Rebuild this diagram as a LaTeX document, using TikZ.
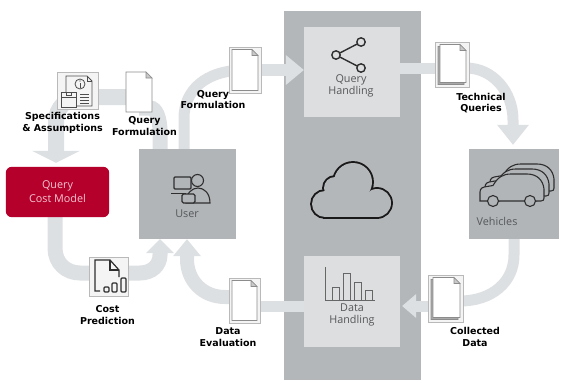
\documentclass[tikz,border=0pt]{standalone}
\usepackage{fontspec}
\setmainfont{DejaVu Sans}
\newfontfamily\labelfont{DejaVu Sans}
\newfontfamily\boxfont{Open Sans}
\usetikzlibrary{arrows.meta,calc}

\definecolor{colgray}{HTML}{B4B7BA}
\definecolor{boxgray}{HTML}{B2B5B8}
\definecolor{innergray}{HTML}{DCDEDF}
\definecolor{bandgray}{HTML}{DDE0E2}
\definecolor{costred}{HTML}{B5002C}
\definecolor{costtext}{HTML}{F3C6D0}
\definecolor{boxtext}{HTML}{555759}
\definecolor{tileline}{HTML}{B9B9B9}
\definecolor{tilefill}{HTML}{F4F4F4}
\definecolor{pageline}{HTML}{8C8C8C}
\definecolor{foldgray}{HTML}{C9C9C9}
\definecolor{shadowgray}{HTML}{A9A9A9}
\definecolor{iconline}{HTML}{2E2E2E}
\definecolor{chartline}{HTML}{666666}

\tikzset{
  band/.style={draw=bandgray, line width=#1},
  band/.default=12pt,
  tip/.style 2 args={-{Triangle[width=#1,length=#2,line width=0pt]}},
  block/.style={fill=#1, draw=none, inner sep=0pt},
  tile/.style={draw=tileline, fill=tilefill, line width=0.6pt, inner sep=0pt},
  lbl/.style={font=\labelfont\bfseries\fontsize{9.5}{11.5}\selectfont, align=center, inner sep=0pt, text=black},
  boxlbl/.style={font=\boxfont\fontsize{10.8}{12.5}\selectfont, align=center, inner sep=0pt, text=boxtext},
  icon/.style={draw=iconline, line width=1.1pt},
  pics/docpage/.style 2 args={code={
    \draw[draw=pageline, line width=0.6pt, fill=white]
      ({-#1/2},{-#2/2}) -- ({#1/2-6},{-#2/2}) -- ({#1/2},{-#2/2+6}) --
      ({#1/2},{#2/2}) -- ({-#1/2},{#2/2}) -- cycle;
    \draw[draw=pageline, line width=0.6pt, fill=foldgray]
      ({#1/2-6},{-#2/2}) -- ({#1/2-6},{-#2/2+6}) -- ({#1/2},{-#2/2+6}) -- cycle;
  }},
  pics/stackpage/.style 2 args={code={
    \draw[draw=pageline, line width=0.6pt, fill=shadowgray]
      ({-#1/2-2},{-#2/2+2}) -- ({#1/2-8},{-#2/2+2}) -- ({#1/2-2},{-#2/2+8}) --
      ({#1/2-2},{#2/2+2}) -- ({-#1/2-2},{#2/2+2}) -- cycle;
    \draw[draw=pageline, line width=0.6pt, fill=white]
      ({-#1/2},{-#2/2}) -- ({#1/2-6},{-#2/2}) -- ({#1/2},{-#2/2+6}) --
      ({#1/2},{#2/2}) -- ({-#1/2},{#2/2}) -- cycle;
    \draw[draw=pageline, line width=0.6pt, fill=foldgray]
      ({#1/2-6},{-#2/2}) -- ({#1/2-6},{-#2/2+6}) -- ({#1/2},{-#2/2+6}) -- cycle;
  }},
  pics/car/.style={code={
    \draw[icon, fill=boxgray]
      (0,0) -- (0,-9) .. controls (0,-13) and (3,-14) .. (7,-14.5) -- (13,-15.5)
      .. controls (18,-24) and (23,-27) .. (31,-27) -- (47,-27)
      .. controls (57,-27) and (63,-21) .. (64,-12) -- (64,-3)
      .. controls (64,-1) and (63,0) .. (61,0) -- cycle;
    \draw[icon, fill=boxgray] (13,0) circle[radius=5.5];
    \draw[icon, fill=boxgray] (50,0) circle[radius=5.5];
  }}
}

\begin{document}
\begin{tikzpicture}[x=1pt, y=-1pt]
\useasboundingbox (0,0) rectangle (563,380);
\fill[white] (0,0) rectangle (563,380);

% cloud backbone column
\node[block=colgray, minimum width=137pt, minimum height=369pt, anchor=north west] (backbone) at (284,11) {};

% node placeholders for tiles (drawn later, used as anchors)
\path
  (78,90.5)     node[minimum width=41pt, minimum height=37pt, inner sep=0pt] (spec) {}
  (139,92)      node[minimum width=26pt, minimum height=40pt, inner sep=0pt] (qfL) {}
  (245,70)      node[minimum width=32pt, minimum height=46pt, inner sep=0pt] (qfT) {}
  (452,64.5)    node[minimum width=34pt, minimum height=45pt, inner sep=0pt] (tech) {}
  (445.5,298.5) node[minimum width=35pt, minimum height=47pt, inner sep=0pt] (coll) {}
  (244.5,300.5) node[minimum width=31pt, minimum height=45pt, inner sep=0pt] (deval) {}
  (108.5,276.5) node[minimum width=39pt, minimum height=39pt, inner sep=0pt] (cpred) {};

% main blocks (placed as coordinates first for the connectors)
\path
  (352,72)    node[minimum width=96pt, minimum height=90pt, inner sep=0pt] (qh) {}
  (352,301.5) node[minimum width=96pt, minimum height=91pt, inner sep=0pt] (dh) {}
  (187.5,194) node[minimum width=97pt, minimum height=90pt, inner sep=0pt] (user) {}
  (514,194)   node[minimum width=90pt, minimum height=90pt, inner sep=0pt] (veh) {}
  (57.5,192)  node[minimum width=103pt, minimum height=50pt, inner sep=0pt] (cost) {};

% ---- flow bands ----
% query formulation -> specifications -> cost model
\draw[band=16pt, tip={48pt}{12pt}] (qfL |- 0,97) -- (80,97)
  .. controls (67,97) and (56,108) .. (56,121) -- ($(cost.north)+(-1.5,-4)$);
% query formulation <-> user
\draw[band=15pt] (qfL |- 0,108) -- (150,108)
  .. controls (156,108) and (160,118) .. (160,132) -- (user.north -| 160,0);
% user -> query formulation (upper)
\draw[band=11pt] (user.north -| 184,0) -- (184,118)
  .. controls (184,91) and (205,70) .. (qfT.center);
% query formulation -> query handling
\draw[band=12pt, tip={30pt}{18pt}] (qfT.center) -- (qfT -| qh.west);
% query handling -> technical queries
\draw[band=11pt] (qh.center |- 0,68) -- (tech.center |- 0,68);
% technical queries -> vehicles
\draw[band=11pt, tip={32pt}{20pt}] (tech.center |- 0,68) -- (466,68)
  .. controls (493,68) and (513,92) .. (513,120) -- ($(veh.north -| 513,0)+(0,-4)$);
% vehicles -> collected data
\draw[band=11pt] (veh.south -| 514,0) -- (514,255)
  .. controls (514,282) and (492,301) .. (460,301) -- (coll.center |- 0,301);
% collected data -> data handling
\draw[band=11pt, tip={24pt}{14pt}] (coll.center |- 0,306) -- ($(dh.east |- 0,306)+(2,0)$);
% data handling -> data evaluation
\draw[band=11pt] (dh.center |- 0,306) -- (deval.center |- 0,306);
% data evaluation -> user
\draw[band=14pt, tip={28pt}{17pt}] (deval.center |- 0,297) -- (225,297)
  .. controls (203,297) and (187,281) .. (187,259) -- (user.south -| 187,0);
% cost model -> cost prediction -> user
\draw[band=15pt, tip={28pt}{14pt}] (cost.south -| 55,0) -- (55,248)
  .. controls (55,263) and (66,273) .. (80,273) -- (140,273)
  .. controls (152,273) and (160,265) .. (160,255) -- (user.south -| 160,0);

% ---- blocks ----
\fill[innergray] (qh.north west) rectangle (qh.south east);
\fill[innergray] (dh.north west) rectangle (dh.south east);
\fill[boxgray] (user.north west) rectangle (user.south east);
\fill[boxgray] (veh.north west) rectangle (veh.south east);
\fill[costred, rounded corners=6pt] (cost.north west) rectangle (cost.south east);

% ---- document tiles ----
\draw[tile] (spec.north west) rectangle (spec.south east);
\draw[tile] (qfT.north west) rectangle (qfT.south east);
\draw[tile] (tech.north west) rectangle (tech.south east);
\draw[tile] (coll.north west) rectangle (coll.south east);
\draw[tile] (deval.north west) rectangle (deval.south east);
\draw[tile] (cpred.north west) rectangle (cpred.south east);

\pic at (qfL) {docpage={26}{40}};
\pic at (qfT) {docpage={26}{41}};
\pic at (deval) {docpage={25}{40}};
\pic at ($(tech)+(1,-1)$) {stackpage={26}{38}};
\pic at ($(coll)+(1,-1)$) {stackpage={27}{40}};

% specifications & assumptions icon
\begin{scope}[draw=iconline!85, line width=0.8pt]
  \draw[fill=tilefill] (66,76) -- (87,76) -- (92,81) -- (92,106) -- (66,106) -- cycle;
  \draw (87,76) -- (87,81) -- (92,81);
  \draw (80,84) circle[radius=5];
  \draw[line width=1pt] (80,83) -- (80,87.5);
  \fill[iconline] (80,81) circle[radius=0.7];
  \draw (80,94) -- (89,94) (80,97) -- (89,97) (80,100) -- (89,100) (80,103) -- (89,103);
  \draw[fill=tilefill] (61,92) rectangle (76,107);
  \draw (61,97) -- (76,97) (66,92) -- (66,95.5) -- (71,95.5) -- (71,92);
\end{scope}

% cost prediction icon
\begin{scope}[draw=iconline, line width=1.2pt]
  \draw (119,277) -- (119,270) -- (110,260) -- (95,260) -- (95,291) -- (100,291);
  \draw (110,260) -- (110,270) -- (119,270);
  \draw[rounded corners=1pt] (104,287) rectangle (109,292)
    (112,283) rectangle (117,292) (121,278) rectangle (126,292);
\end{scope}

% share icon (query handling)
\begin{scope}[draw=iconline, line width=1.4pt]
  \draw (361,42) -- (336,55) -- (361,68);
  \draw[fill=innergray] (361,42) circle[radius=4.2];
  \draw[fill=innergray] (336,55) circle[radius=4.2];
  \draw[fill=innergray] (361,68) circle[radius=4.2];
\end{scope}

% bar chart icon (data handling)
\begin{scope}[draw=chartline, line width=0.9pt]
  \draw (325,267) -- (325,300) -- (375,300);
  \draw (332,300) -- (332,287) -- (339,287) -- (339,300);
  \draw (343,300) -- (343,273) -- (350,273) -- (350,300);
  \draw (354,300) -- (354,282) -- (361,282) -- (361,300);
  \draw (365,300) -- (365,290) -- (372,290) -- (372,300);
\end{scope}

% cloud icon: thick outlines of the lobes, then the interiors filled over them
\foreach \cx/\cy/\r in {325/204/13, 335/188/11, 353/182/19, 377/203/14}
  \draw[draw=black!90, line width=3.8pt] (\cx,\cy) circle[radius=\r];
\draw[draw=black!90, line width=3.8pt] (325,196) rectangle (377,217);
\foreach \cx/\cy/\r in {325/204/13, 335/188/11, 353/182/19, 377/203/14}
  \fill[colgray] (\cx,\cy) circle[radius=\r];
\fill[colgray] (325,196) rectangle (377,217);

% user icon
\begin{scope}[icon]
  \draw[fill=boxgray] (186,203) .. controls (186,193) and (192,188) .. (198,188)
    .. controls (204,188) and (210,193) .. (210,203) -- cycle;
  \draw[fill=boxgray] (197.5,180.5) circle[radius=6];
  \draw[fill=boxgray, rounded corners=1pt] (174,177) rectangle (191,189);
  \draw (171,193.5) -- (186,193.5);
  \draw[fill=boxgray, rounded corners=1.5pt] (182,194) rectangle (195,203);
\end{scope}

% vehicles icon
\pic at (490,191) {car};
\pic at (485,196) {car};
\pic at (480,201) {car};

% ---- block labels ----
\node[boxlbl] (qhlabel) at (351,86) {Query\\Handling};
\node[boxlbl] (dhlabel) at (352,315) {Data\\Handling};
\node[boxlbl] (userlabel) at (187,214) {User};
\node[boxlbl, anchor=west] (vehlabel) at (476.5,221) {Vehicles};
\node[boxlbl, text=costtext, font=\boxfont\fontsize{10.8}{14}\selectfont] (costlabel) at (57.5,192) {Query\\Cost Model};

% ---- flow labels ----
\node[lbl] (speclabel) at (62.5,123) {Specifications\\\& Assumptions};
\node[lbl] (qflabelL) at (144.5,126) {Query\\Formulation};
\node[lbl] (qflabelT) at (213,99.5) {Query\\Formulation};
\node[lbl] (techlabel) at (481,103) {Technical\\Queries};
\node[lbl] (colllabel) at (475,337) {Collected\\Data};
\node[lbl] (cpredlabel) at (107.5,315) {Cost\\Prediction};
\node[lbl] (devallabel) at (228,337) {Data\\Evaluation};
\end{tikzpicture}
\end{document}
